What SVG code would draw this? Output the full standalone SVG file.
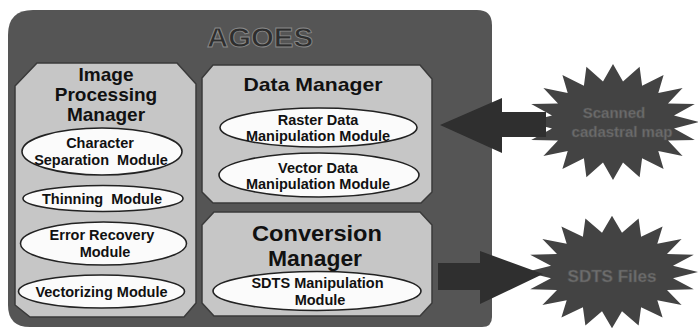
<svg xmlns="http://www.w3.org/2000/svg" xmlns:xlink="http://www.w3.org/1999/xlink" width="698" height="329" viewBox="0 0 698 329">
<style>
  .t{font-family:"Liberation Sans",Arial,sans-serif;font-weight:bold;fill:#111;text-anchor:middle}
  .mgr{font-size:19px}
  .mod{font-size:14.5px}
  .panel{fill:#c6c6c6;stroke:#3a3a3a;stroke-width:1.5}
  .ell{fill:#fbfbfb;stroke:#222;stroke-width:1.6}
  .star{fill:#434343}
  .stxt{font-family:"Liberation Sans",Arial,sans-serif;font-weight:bold;fill:#6e6e6e;stroke:#555;stroke-width:0.6;text-anchor:middle}
  .arrow{fill:#2f2f2f}
</style>
<defs>
  <polygon id="starShape" points="0,-58 10,-40.5 26.6,-55.2 29.1,-36.3 50.6,-46.9 45.3,-29 69.6,-34.1 55,-18.5 81.8,-17.9 61,-6.4 86,0 61,6.4 81.8,17.9 55,18.5 69.6,34.1 45.3,29 50.6,46.9 29.1,36.3 26.6,55.2 10,40.5 0,58 -10,40.5 -26.6,55.2 -29.1,36.3 -50.6,46.9 -45.3,29 -69.6,34.1 -55,18.5 -81.8,17.9 -61,6.4 -86,0 -61,-6.4 -81.8,-17.9 -55,-18.5 -69.6,-34.1 -45.3,-29 -50.6,-46.9 -29.1,-36.3 -26.6,-55.2 -10,-40.5"/>
</defs>
<rect width="698" height="329" fill="#ffffff"/>

<g id="agoes">
  <path d="M33 10 H477 Q492 10 492 25 V317 Q492 327 482 327 H30 Q8 327 8 305 V35 Q8 10 33 10 Z" fill="#555555"/>
  <text class="t" x="260" y="47" font-size="28" textLength="106" lengthAdjust="spacingAndGlyphs" style="fill:#2e2e2e;stroke:#8a8a8a;stroke-width:0.9">AGOES</text>
</g>

<g id="image-processing-manager">
  <polygon class="panel" points="37,63 177,63 196,84 196,303 184,317 30,317 15,305 15,86"/>
  <text class="t mgr" x="106" y="81">Image</text>
  <text class="t mgr" x="106" y="101">Processing</text>
  <text class="t mgr" x="106" y="121">Manager</text>
</g>

<g id="character-separation-module">
  <ellipse class="ell" cx="102" cy="151.5" rx="80" ry="23.5"/>
  <text class="t mod" x="100" y="148">Character</text>
  <text class="t mod" x="101" y="165" xml:space="preserve">Separation  Module</text>
</g>
<g id="thinning-module">
  <ellipse class="ell" cx="103" cy="198.5" rx="80" ry="13"/>
  <text class="t mod" x="102" y="204" xml:space="preserve">Thinning  Module</text>
</g>
<g id="error-recovery-module">
  <ellipse class="ell" cx="103.5" cy="243.5" rx="83" ry="21.5"/>
  <text class="t mod" x="102" y="240">Error Recovery</text>
  <text class="t mod" x="105" y="257">Module</text>
</g>
<g id="vectorizing-module">
  <ellipse class="ell" cx="101.5" cy="291.5" rx="83" ry="16.5"/>
  <text class="t mod" x="101.5" y="297">Vectorizing Module</text>
</g>

<g id="data-manager">
  <polygon class="panel" points="213,65 420,65 432,79 432,192 421,203 213,203 202,192 202,78"/>
  <text class="t mgr" x="313" y="91" textLength="139" lengthAdjust="spacingAndGlyphs">Data Manager</text>
</g>
<g id="raster-data-module">
  <ellipse class="ell" cx="318.5" cy="127.5" rx="98.5" ry="19.5"/>
  <text class="t mod" x="318" y="125">Raster Data</text>
  <text class="t mod" x="318" y="141">Manipulation Module</text>
</g>
<g id="vector-data-module">
  <ellipse class="ell" cx="319" cy="175" rx="100" ry="22"/>
  <text class="t mod" x="318" y="173">Vector Data</text>
  <text class="t mod" x="318" y="189">Manipulation Module</text>
</g>

<g id="conversion-manager">
  <polygon class="panel" points="214,212 420,212 432,225 432,303 420,316 214,316 202,303 202,225"/>
  <text class="t" x="317" y="241" font-size="22" textLength="130" lengthAdjust="spacingAndGlyphs">Conversion</text>
  <text class="t" x="315" y="266" font-size="22" textLength="94" lengthAdjust="spacingAndGlyphs">Manager</text>
</g>
<g id="sdts-manipulation-module">
  <ellipse class="ell" cx="317" cy="291" rx="104" ry="19.5"/>
  <text class="t mod" x="317.5" y="288">SDTS Manipulation</text>
  <text class="t mod" x="320" y="305">Module</text>
</g>

<g id="scanned-cadastral-map">
  <use xlink:href="#starShape" class="star" transform="translate(613,122)"/>
  <text class="stxt" x="614" y="118" font-size="15">Scanned</text>
  <text class="stxt" x="622" y="137" font-size="15">cadastral map</text>
</g>
<g id="sdts-files">
  <use xlink:href="#starShape" class="star" transform="translate(612,272) scale(1,0.97)"/>
  <text class="stxt" x="612" y="282" font-size="17">SDTS Files</text>
</g>

<g id="connectors">
  <polygon class="arrow" points="440,125 502,98 502,112 546,112 546,137 502,137 502,153"/>
  <polygon class="arrow" points="438,263 480,263 480,251 543,274 480,304 480,290 438,290"/>
</g>
</svg>
